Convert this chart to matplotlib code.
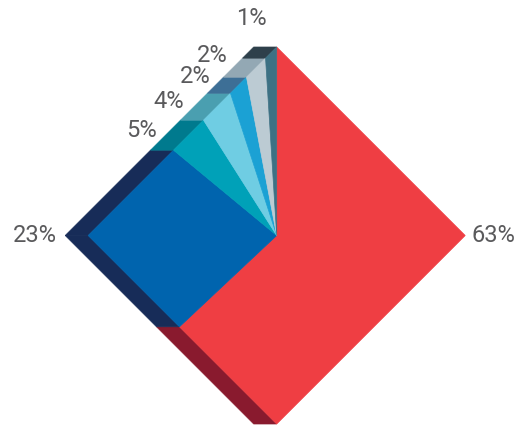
import numpy as np
import matplotlib
matplotlib.use("Agg")
import matplotlib.pyplot as plt
from matplotlib.patches import Polygon

plt.rcParams["font.family"] = ["Roboto", "DejaVu Sans"]

# slice data, clockwise from 12 o'clock
labels = ["63%", "23%", "5%", "4%", "2%", "2%", "1%"]
shares = [63, 23, 5, 4, 2, 2, 1]
top_colors = ["#EF3E43", "#0064AE", "#00A1B8", "#6FCDE3", "#1BA1D4", "#BCCBD3", "#3D7184"]
side_colors = ["#891A2E", "#172C58", "#007A8E", "#4A9FB0", "#3D6F96", "#93A8B4", "#2E404B"]

# layout (pixel units)
W, H = 522, 426
CX, CY, R, DEPTH = 276.7, 235.5, 188.5, 23
# small-label nudges (px) from the extruded edge midpoint
LABEL_NUDGE = [None, None, (-8, -5), (-9, -6), (-5, -9), (-5, -13), (19, -34)]


def edge_point(deg):
    t = np.radians(deg)
    c, s = np.cos(t), np.sin(t)
    r = R / (abs(c) + abs(s))
    return np.array([CX + r * c, CY - r * s])


def boundary(a0, a1):
    # a0 > a1, clockwise walk along the diamond
    angs = [a0]
    v = np.floor(a0 / 90.0) * 90.0
    if v == a0:
        v -= 90
    while v > a1:
        angs.append(v)
        v -= 90
    angs.append(a1)
    return [edge_point(a) for a in angs]


fig = plt.figure(figsize=(W / 100, H / 100), dpi=100)
ax = fig.add_axes([0, 0, 1, 1])
ax.set_xlim(0, W)
ax.set_ylim(H, 0)
ax.axis("off")

bounds = np.cumsum([0] + shares) / 100.0 * 360.0
shift = np.array([DEPTH, 0.0])

# extruded sides first
for i in range(len(shares)):
    pts = boundary(90 - bounds[i], 90 - bounds[i + 1])
    for p, q in zip(pts[:-1], pts[1:]):
        if (p[0] + q[0]) / 2 < CX - 0.01:
            ax.add_patch(Polygon([p, q, q - shift, p - shift], closed=True,
                                 facecolor=side_colors[i], edgecolor=side_colors[i],
                                 lw=0.5, zorder=1))

# top faces
for i in range(len(shares)):
    pts = boundary(90 - bounds[i], 90 - bounds[i + 1])
    poly = [np.array([CX, CY])] + pts
    ax.add_patch(Polygon(poly, closed=True, facecolor=top_colors[i],
                         edgecolor=top_colors[i], lw=0.5, zorder=2))

# labels
for i, lab in enumerate(labels):
    a0, a1 = 90 - bounds[i], 90 - bounds[i + 1]
    mid = (a0 + a1) / 2
    verts = [v for v in range(-270, 360, 90) if a1 < v < a0]
    kw = dict(fontsize=17, color="#5A5A5C", va="center", zorder=3)
    if verts:
        v = min(verts, key=lambda d: abs(d - mid))
        p = edge_point(v)
        if np.cos(np.radians(v)) > 0.5:
            ax.text(p[0] + 6, p[1], lab, ha="left", **kw)
        else:
            ax.text(p[0] - DEPTH - 8, p[1], lab, ha="right", **kw)
    else:
        p = edge_point(mid) - shift
        dx, dy = LABEL_NUDGE[i]
        ax.text(p[0] + dx, p[1] + dy, lab, ha="right", **kw)

fig.savefig("out.png", dpi=100)
